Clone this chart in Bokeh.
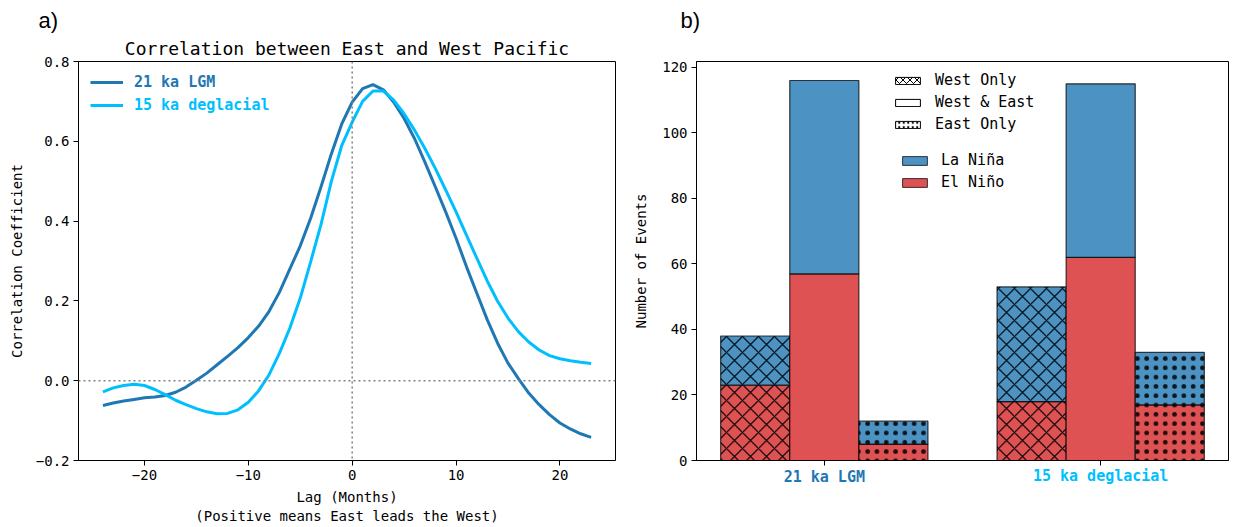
from bokeh.plotting import figure
from bokeh.models import (Range1d, Span, Legend, LegendItem, FixedTicker, Title,
                          LinearAxis)
from bokeh.layouts import row
from bokeh.embed import file_html
from bokeh.resources import INLINE

MONO = "DejaVu Sans Mono"
SANS = "Liberation Sans"

# ---------------- data ----------------
lags = list(range(-24, 24))
corr_lgm = [-0.062, -0.056, -0.051, -0.047, -0.043, -0.041, -0.037, -0.029,
            -0.016, 0.001, 0.019, 0.040, 0.061, 0.083, 0.108, 0.137,
            0.174, 0.222, 0.280, 0.338, 0.407, 0.486, 0.569, 0.644,
            0.698, 0.732, 0.742, 0.729, 0.698, 0.657, 0.607, 0.548,
            0.486, 0.423, 0.357, 0.286, 0.219, 0.153, 0.094, 0.044,
            0.005, -0.031, -0.060, -0.085, -0.106, -0.121, -0.133, -0.142]
corr_deg = [-0.028, -0.018, -0.012, -0.009, -0.012, -0.022, -0.035, -0.049,
            -0.060, -0.070, -0.078, -0.083, -0.082, -0.073, -0.054, -0.025,
            0.015, 0.069, 0.132, 0.207, 0.298, 0.392, 0.500, 0.590,
            0.648, 0.700, 0.726, 0.726, 0.703, 0.669, 0.628, 0.582,
            0.532, 0.478, 0.423, 0.365, 0.307, 0.250, 0.199, 0.157,
            0.123, 0.097, 0.077, 0.063, 0.055, 0.050, 0.046, 0.043]

bar_groups = ["21 ka LGM", "15 ka deglacial"]
event_types = ["West Only", "West & East", "East Only"]
elnino_lgm = [23, 57, 5]
lanina_lgm = [15, 59, 7]
elnino_deg = [18, 62, 17]
lanina_deg = [35, 53, 16]

x_ticks = [-20, -10, 0, 10, 20]
y_ticks = [-0.2, 0.0, 0.2, 0.4, 0.6, 0.8]
y_tick_labels = ["−0.2", "0.0", "0.2", "0.4", "0.6", "0.8"]
bar_y_ticks = [0, 20, 40, 60, 80, 100, 120]

C_LGM = "#1f77b4"
C_DEG = "#00bfff"
C_NINA = "#4c92c3"
C_NINO = "#de5253"
GROUP_COLORS = [C_LGM, C_DEG]


def style_axis(ax):
    ax.major_label_text_font = MONO
    ax.major_label_text_font_size = "14px"
    ax.major_label_text_color = "black"
    ax.axis_label_text_font = MONO
    ax.axis_label_text_font_size = "14px"
    ax.axis_label_text_font_style = "normal"
    ax.axis_label_text_color = "black"
    ax.axis_line_color = "black"
    ax.major_tick_line_color = "black"
    ax.major_tick_out = 5
    ax.major_tick_in = 0
    ax.minor_tick_line_color = None
    ax.major_label_standoff = 4


def style_fig(p):
    for ax in p.axis:
        style_axis(ax)
    p.xgrid.visible = False
    p.ygrid.visible = False
    p.outline_line_color = "black"
    p.outline_line_alpha = 1
    p.outline_line_width = 1


def panel_letter(p, letter, offset):
    p.title.text = letter
    p.title.text_font = SANS
    p.title.text_font_size = "22px"
    p.title.text_font_style = "normal"
    p.title.text_color = "black"
    p.title.align = "left"
    p.title.offset = offset
    p.title.standoff = 2


def subtitle(text):
    return Title(text=text, align="center", text_font=MONO, text_font_size="18px",
                 text_font_style="normal", text_color="black", standoff=5)


# ---------------- panel a ----------------
p1 = figure(width=630, height=527,
            x_range=Range1d(-26.35, 25.35), y_range=Range1d(-0.2, 0.8),
            output_backend="svg", toolbar_location=None,
            min_border_left=78, min_border_right=15,
            min_border_top=61, min_border_bottom=66)
panel_letter(p1, "a)", -40)
p1.add_layout(subtitle("Correlation between East and West Pacific"), "above")

style_fig(p1)
p1.xaxis.ticker = FixedTicker(ticks=x_ticks)
p1.xaxis.major_label_overrides = {t: (str(t).replace("-", "−")) for t in x_ticks}
p1.yaxis.ticker = FixedTicker(ticks=y_ticks)
p1.yaxis.major_label_overrides = dict(zip(y_ticks, y_tick_labels))
p1.xaxis.axis_label = "Lag (Months)\n(Positive means East leads the West)"
p1.yaxis.axis_label = "Correlation Coefficient"
p1.yaxis.axis_label_standoff = 8
p1.xaxis.axis_label_standoff = 6

p1.add_layout(Span(location=0, dimension="width", line_color="gray",
                   line_dash="2 3", line_width=1.5))
p1.add_layout(Span(location=0, dimension="height", line_color="gray",
                   line_dash="2 3", line_width=1.5))

r_lgm = p1.line(lags, corr_lgm, line_color=C_LGM, line_width=3)
r_deg = p1.line(lags, corr_deg, line_color=C_DEG, line_width=3)


def line_legend(label, rend, color, loc):
    lg = Legend(items=[LegendItem(label=label, renderers=[rend])], location=loc,
                label_text_font=MONO, label_text_font_size="15px",
                label_text_font_style="bold", label_text_color=color,
                glyph_width=33, glyph_height=16, label_height=16,
                label_standoff=11, padding=0, margin=0, spacing=0,
                border_line_alpha=0, background_fill_alpha=0)
    p1.add_layout(lg)


line_legend("21 ka LGM", r_lgm, C_LGM, (12, 369))
line_legend("15 ka deglacial", r_deg, C_DEG, (12, 346))

# ---------------- panel b ----------------
p2 = figure(width=604, height=527,
            x_range=Range1d(-0.4625, 1.4625), y_range=Range1d(0, 121.8),
            output_backend="svg", toolbar_location=None,
            min_border_left=66, min_border_right=6,
            min_border_top=59, min_border_bottom=67)
panel_letter(p2, "b)", -16)
p2.add_layout(subtitle(" "), "above")   # empty title row, as in panel a

style_fig(p2)
p2.yaxis.ticker = FixedTicker(ticks=bar_y_ticks)
p2.yaxis.axis_label = "Number of Events"
p2.yaxis.axis_label_standoff = 10

# group labels: one axis per group so each label can carry its own colour
group_pos = list(range(len(bar_groups)))
xax1 = p2.below[0]
xax1.ticker = FixedTicker(ticks=group_pos)
xax1.major_label_overrides = {g: (bar_groups[0] if g == 0 else " ") for g in group_pos}
xax1.major_label_text_color = GROUP_COLORS[0]
xax1.major_label_text_font_style = "bold"
xax1.major_label_text_font_size = "15px"
xax1.major_label_standoff = 2

xax2 = LinearAxis(ticker=FixedTicker(ticks=group_pos[1:]),
                  major_label_overrides={group_pos[1]: bar_groups[1]})
style_axis(xax2)
xax2.axis_line_color = None
xax2.major_tick_line_color = None
xax2.major_tick_out = 0
xax2.major_label_text_color = GROUP_COLORS[1]
xax2.major_label_text_font_style = "bold"
xax2.major_label_text_font_size = "15px"
xax2.major_label_standoff = -22
p2.add_layout(xax2, "below")

bar_w = 0.25
hatches = ["x", None, "dot"]
hatch_scales = [16, 12, 9.3]
hatch_weights = [1.3, 1, 0.7]
for k, et in enumerate(event_types):
    xs = [g + (k - 1) * bar_w for g in group_pos]
    nino = [elnino_lgm[k], elnino_deg[k]]
    nina = [lanina_lgm[k], lanina_deg[k]]
    tops = [a + b for a, b in zip(nino, nina)]
    common = dict(width=bar_w, line_color="black", line_alpha=0.75, line_width=1.2,
                  hatch_pattern=hatches[k], hatch_color="black", hatch_alpha=0.85,
                  hatch_scale=hatch_scales[k], hatch_weight=hatch_weights[k])
    p2.vbar(x=xs, bottom=[0] * len(xs), top=nino, fill_color=C_NINO, **common)
    p2.vbar(x=xs, bottom=nino, top=tops, fill_color=C_NINA, **common)

# legend proxies: zero-height bars sitting on the baseline
proxy_x = [group_pos[0]]
proxy_y = [0]
leg_hatch = []
for k, et in enumerate(event_types):
    r = p2.vbar(x=proxy_x, bottom=proxy_y, top=proxy_y, width=bar_w,
                fill_color="white", line_color="black",
                line_width=1, hatch_pattern=hatches[k], hatch_color="black",
                hatch_scale=7 if k == 0 else 4.5, hatch_weight=1 if k == 0 else 0.5)
    leg_hatch.append(LegendItem(label=et, renderers=[r]))
r_nina = p2.vbar(x=proxy_x, bottom=proxy_y, top=proxy_y, width=bar_w,
                 fill_color=C_NINA, line_color="black", line_alpha=0.75, line_width=1)
r_nino = p2.vbar(x=proxy_x, bottom=proxy_y, top=proxy_y, width=bar_w,
                 fill_color=C_NINO, line_color="black", line_alpha=0.75, line_width=1)

leg_style = dict(label_text_font=MONO, label_text_font_size="15px",
                 label_text_color="black", label_height=16,
                 padding=0, margin=0, spacing=4,
                 border_line_alpha=0, background_fill_alpha=0)
lg_a = Legend(items=leg_hatch, location=(196, 327), glyph_width=31, glyph_height=9,
              label_standoff=12, **leg_style)
lg_b = Legend(items=[LegendItem(label="La Niña", renderers=[r_nina]),
                     LegendItem(label="El Niño", renderers=[r_nino])],
              location=(203, 269), glyph_width=31, glyph_height=11,
              label_standoff=11, **leg_style)
p2.add_layout(lg_a)
p2.add_layout(lg_b)

layout = row(p1, p2)
open("out.html", "w").write(file_html(layout, INLINE))
